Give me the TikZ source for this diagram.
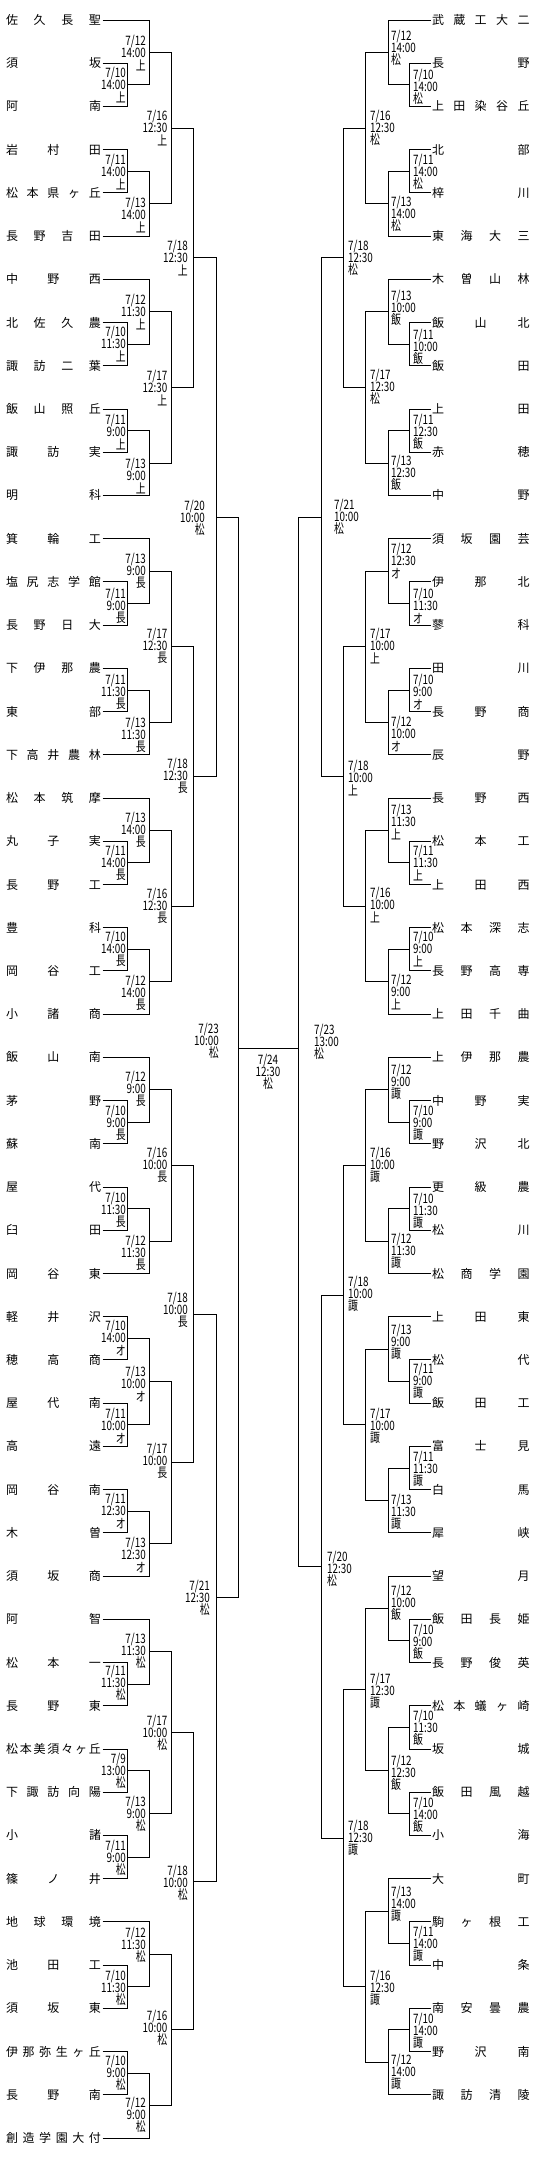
\documentclass[tikz,border=0pt]{standalone}
\usepackage{fontspec}
\newfontfamily\jp{Noto Sans CJK JP}
\newfontfamily\jplab[FakeStretch=0.76]{Noto Sans CJK JP}
\def\sprd#1{\sprdA#1\relax}
\def\sprdA#1#2{#1\ifx\relax#2\else\hfil\expandafter\sprdA\expandafter#2\fi}
\tikzset{
  ln/.style={line width=1pt, black},
  namebox/.style={anchor=west, inner sep=0pt, outer xsep=1.5pt, text height=10.5pt, text depth=1.5pt, font=\jp\fontsize{12}{12}\selectfont},
  labl/.style={anchor=east, inner sep=0pt, align=right, font=\jplab\fontsize{13}{12.3}\selectfont},
  labr/.style={anchor=west, inner sep=0pt, align=left, font=\jplab\fontsize{13}{12.3}\selectfont},
  labc/.style={inner sep=0pt, align=center, font=\jplab\fontsize{13}{12.3}\selectfont}
}
\newcommand\teamL[3]{\node[namebox] (#1) at (4.5,{ry(#2)}) {\hbox to 95pt{\sprd{#3}}};}
\newcommand\teamR[3]{\node[namebox] (#1) at (430.5,{ry(#2)}) {\hbox to 97.5pt{\sprd{#3}}};}
\newcommand\mt[5]{\coordinate (#1) at (#2,#3); \draw[ln] (#4) -| (#1); \draw[ln] (#5) -| (#1);}
\newcommand\lablL[4]{\node[labl] (#1) at (#2,#3) {#4};}
\newcommand\lablR[4]{\node[labr] (#1) at (#2,#3) {#4};}
\begin{document}
\begin{tikzpicture}[x=1pt,y=-1pt,declare function={ry(\k)=20+43.2245*(\k-1);}]
\fill[white] (0,0) rectangle (536,2166);
\useasboundingbox (0,0) rectangle (536,2166);
% left teams
\teamL{l1}{1}{佐久長聖}
\teamL{l2}{2}{須坂}
\teamL{l3}{3}{阿南}
\teamL{l4}{4}{岩村田}
\teamL{l5}{5}{松本県ヶ丘}
\teamL{l6}{6}{長野吉田}
\teamL{l7}{7}{中野西}
\teamL{l8}{8}{北佐久農}
\teamL{l9}{9}{諏訪二葉}
\teamL{l10}{10}{飯山照丘}
\teamL{l11}{11}{諏訪実}
\teamL{l12}{12}{明科}
\teamL{l13}{13}{箕輪工}
\teamL{l14}{14}{塩尻志学館}
\teamL{l15}{15}{長野日大}
\teamL{l16}{16}{下伊那農}
\teamL{l17}{17}{東部}
\teamL{l18}{18}{下高井農林}
\teamL{l19}{19}{松本筑摩}
\teamL{l20}{20}{丸子実}
\teamL{l21}{21}{長野工}
\teamL{l22}{22}{豊科}
\teamL{l23}{23}{岡谷工}
\teamL{l24}{24}{小諸商}
\teamL{l25}{25}{飯山南}
\teamL{l26}{26}{茅野}
\teamL{l27}{27}{蘇南}
\teamL{l28}{28}{屋代}
\teamL{l29}{29}{臼田}
\teamL{l30}{30}{岡谷東}
\teamL{l31}{31}{軽井沢}
\teamL{l32}{32}{穂高商}
\teamL{l33}{33}{屋代南}
\teamL{l34}{34}{高遠}
\teamL{l35}{35}{岡谷南}
\teamL{l36}{36}{木曽}
\teamL{l37}{37}{須坂商}
\teamL{l38}{38}{阿智}
\teamL{l39}{39}{松本一}
\teamL{l40}{40}{長野東}
\teamL{l41}{41}{松本美須々ヶ丘}
\teamL{l42}{42}{下諏訪向陽}
\teamL{l43}{43}{小諸}
\teamL{l44}{44}{篠ノ井}
\teamL{l45}{45}{地球環境}
\teamL{l46}{46}{池田工}
\teamL{l47}{47}{須坂東}
\teamL{l48}{48}{伊那弥生ヶ丘}
\teamL{l49}{49}{長野南}
\teamL{l50}{50}{創造学園大付}
% right teams
\teamR{r1}{1}{武蔵工大二}
\teamR{r2}{2}{長野}
\teamR{r3}{3}{上田染谷丘}
\teamR{r4}{4}{北部}
\teamR{r5}{5}{梓川}
\teamR{r6}{6}{東海大三}
\teamR{r7}{7}{木曽山林}
\teamR{r8}{8}{飯山北}
\teamR{r9}{9}{飯田}
\teamR{r10}{10}{上田}
\teamR{r11}{11}{赤穂}
\teamR{r12}{12}{中野}
\teamR{r13}{13}{須坂園芸}
\teamR{r14}{14}{伊那北}
\teamR{r15}{15}{蓼科}
\teamR{r16}{16}{田川}
\teamR{r17}{17}{長野商}
\teamR{r18}{18}{辰野}
\teamR{r19}{19}{長野西}
\teamR{r20}{20}{松本工}
\teamR{r21}{21}{上田西}
\teamR{r22}{22}{松本深志}
\teamR{r23}{23}{長野高専}
\teamR{r24}{24}{上田千曲}
\teamR{r25}{25}{上伊那農}
\teamR{r26}{26}{中野実}
\teamR{r27}{27}{野沢北}
\teamR{r28}{28}{更級農}
\teamR{r29}{29}{松川}
\teamR{r30}{30}{松商学園}
\teamR{r31}{31}{上田東}
\teamR{r32}{32}{松代}
\teamR{r33}{33}{飯田工}
\teamR{r34}{34}{富士見}
\teamR{r35}{35}{白馬}
\teamR{r36}{36}{犀峡}
\teamR{r37}{37}{望月}
\teamR{r38}{38}{飯田長姫}
\teamR{r39}{39}{長野俊英}
\teamR{r40}{40}{松本蟻ヶ崎}
\teamR{r41}{41}{坂城}
\teamR{r42}{42}{飯田風越}
\teamR{r43}{43}{小海}
\teamR{r44}{44}{大町}
\teamR{r45}{45}{駒ヶ根工}
\teamR{r46}{46}{中条}
\teamR{r47}{47}{南安曇農}
\teamR{r48}{48}{野沢南}
\teamR{r49}{49}{諏訪清陵}
% left bracket
\mt{lm1}{127}{84.8}{l2}{l3}
\mt{lm2}{149}{52.4}{l1}{lm1}
\mt{lm3}{127}{171.3}{l4}{l5}
\mt{lm4}{149}{203.7}{lm3}{l6}
\mt{lm5}{171}{128.05}{lm2}{lm4}
\mt{lm6}{127}{344.2}{l8}{l9}
\mt{lm7}{149}{311.75}{l7}{lm6}
\mt{lm8}{127}{430.6}{l10}{l11}
\mt{lm9}{149}{463.05}{lm8}{l12}
\mt{lm10}{171}{387.4}{lm7}{lm9}
\mt{lmq}{193}{257.7}{lm5}{lm10}
\mt{lm11}{127}{603.5}{l14}{l15}
\mt{lm12}{149}{571.1}{l13}{lm11}
\mt{lm13}{127}{690.0}{l16}{l17}
\mt{lm14}{149}{722.4}{lm13}{l18}
\mt{lm15}{171}{646.75}{lm12}{lm14}
\mt{lm16}{127}{862.9}{l20}{l21}
\mt{lm17}{149}{830.45}{l19}{lm16}
\mt{lm18}{127}{949.3}{l22}{l23}
\mt{lm19}{149}{981.75}{lm18}{l24}
\mt{lm20}{171}{906.1}{lm17}{lm19}
\mt{lm21}{193}{776.4}{lm15}{lm20}
\mt{lm22}{216}{517.05}{lmq}{lm21}
\mt{lm23}{127}{1122.2}{l26}{l27}
\mt{lm24}{149}{1089.8}{l25}{lm23}
\mt{lm25}{127}{1208.7}{l28}{l29}
\mt{lm26}{149}{1241.1}{lm25}{l30}
\mt{lm27}{171}{1165.45}{lm24}{lm26}
\mt{lm28}{127}{1338.35}{l31}{l32}
\mt{lm29}{127}{1424.8}{l33}{l34}
\mt{lm30}{149}{1381.6}{lm28}{lm29}
\mt{lm31}{127}{1511.25}{l35}{l36}
\mt{lm32}{149}{1543.7}{lm31}{l37}
\mt{lm33}{171}{1462.65}{lm30}{lm32}
\mt{lm34}{193}{1314.05}{lm27}{lm33}
\mt{lm35}{127}{1684.15}{l39}{l40}
\mt{lm36}{149}{1651.7}{l38}{lm35}
\mt{lm37}{127}{1770.6}{l41}{l42}
\mt{lm38}{127}{1857.05}{l43}{l44}
\mt{lm39}{149}{1813.8}{lm37}{lm38}
\mt{lm40}{171}{1732.75}{lm36}{lm39}
\mt{lm41}{127}{1986.7}{l46}{l47}
\mt{lm42}{149}{1954.3}{l45}{lm41}
\mt{lm43}{127}{2073.2}{l48}{l49}
\mt{lm44}{149}{2105.6}{lm43}{l50}
\mt{lm45}{171}{2029.95}{lm42}{lm44}
\mt{lm46}{193}{1881.35}{lm40}{lm45}
\mt{lm47}{216}{1597.7}{lm34}{lm46}
\mt{lm48}{238}{1048}{lm22}{lm47}
% right bracket
\mt{rm1}{409}{84.8}{r2}{r3}
\mt{rm2}{388}{52.4}{r1}{rm1}
\mt{rm3}{409}{171.3}{r4}{r5}
\mt{rm4}{388}{203.7}{rm3}{r6}
\mt{rm5}{365}{128.05}{rm2}{rm4}
\mt{rm6}{409}{344.2}{r8}{r9}
\mt{rm7}{388}{311.75}{r7}{rm6}
\mt{rm8}{409}{430.6}{r10}{r11}
\mt{rm9}{388}{463.05}{rm8}{r12}
\mt{rm10}{365}{387.4}{rm7}{rm9}
\mt{rm11}{343}{257.7}{rm5}{rm10}
\mt{rm12}{409}{603.5}{r14}{r15}
\mt{rm13}{388}{571.1}{r13}{rm12}
\mt{rm14}{409}{690.0}{r16}{r17}
\mt{rm15}{388}{722.4}{rm14}{r18}
\mt{rm16}{365}{646.75}{rm13}{rm15}
\mt{rm17}{409}{862.9}{r20}{r21}
\mt{rm18}{388}{830.45}{r19}{rm17}
\mt{rm19}{409}{949.3}{r22}{r23}
\mt{rm20}{388}{981.75}{rm19}{r24}
\mt{rm21}{365}{906.1}{rm18}{rm20}
\mt{rm22}{343}{776.4}{rm16}{rm21}
\mt{rm23}{321}{517.05}{rm11}{rm22}
\mt{rm24}{409}{1122.2}{r26}{r27}
\mt{rm25}{388}{1089.8}{r25}{rm24}
\mt{rm26}{409}{1208.7}{r28}{r29}
\mt{rm27}{388}{1241.1}{rm26}{r30}
\mt{rm28}{365}{1165.45}{rm25}{rm27}
\mt{rm29}{409}{1381.6}{r32}{r33}
\mt{rm30}{388}{1349.15}{r31}{rm29}
\mt{rm31}{409}{1468.0}{r34}{r35}
\mt{rm32}{388}{1500.45}{rm31}{r36}
\mt{rm33}{365}{1424.8}{rm30}{rm32}
\mt{rm34}{343}{1295.1}{rm28}{rm33}
\mt{rm35}{409}{1640.9}{r38}{r39}
\mt{rm36}{388}{1608.5}{r37}{rm35}
\mt{rm37}{409}{1727.4}{r40}{r41}
\mt{rm38}{409}{1813.8}{r42}{r43}
\mt{rm39}{388}{1770.6}{rm37}{rm38}
\mt{rm40}{365}{1689.55}{rm36}{rm39}
\mt{rm41}{409}{1943.5}{r45}{r46}
\mt{rm42}{388}{1911.1}{r44}{rm41}
\mt{rm43}{409}{2029.95}{r47}{r48}
\mt{rm44}{388}{2062.4}{rm43}{r49}
\mt{rm45}{365}{1986.75}{rm42}{rm44}
\mt{rm46}{343}{1838.15}{rm40}{rm45}
\mt{rm47}{321}{1566.6}{rm34}{rm46}
\mt{rm48}{298}{1048}{rm23}{rm47}
\draw[ln] (lm48) -- (rm48);
% left labels
\lablL{lm1t}{126}{85}{7/10\\14:00\\上}
\lablL{lm2t}{146}{53}{7/12\\14:00\\上}
\lablL{lm3t}{126}{172}{7/11\\14:00\\上}
\lablL{lm4t}{146}{215}{7/13\\14:00\\上}
\lablL{lm5t}{167.5}{128}{7/16\\12:30\\上}
\lablL{lmqt}{188}{258}{7/18\\12:30\\上}
\lablL{lm6t}{126}{344}{7/10\\11:30\\上}
\lablL{lm7t}{146}{312}{7/12\\11:30\\上}
\lablL{lm8t}{126}{432}{7/11\\9:00\\上}
\lablL{lm9t}{146}{476}{7/13\\9:00\\上}
\lablL{lm10t}{167.5}{388}{7/17\\12:30\\上}
\lablL{lm11t}{126}{606}{7/11\\9:00\\長}
\lablL{lm12t}{146}{571}{7/13\\9:00\\長}
\lablL{lm13t}{126}{692}{7/11\\11:30\\長}
\lablL{lm14t}{146}{735}{7/13\\11:30\\長}
\lablL{lm15t}{167.5}{646}{7/17\\12:30\\長}
\lablL{lm16t}{126}{863}{7/11\\14:00\\長}
\lablL{lm17t}{146}{830}{7/13\\14:00\\長}
\lablL{lm18t}{126}{949}{7/10\\14:00\\長}
\lablL{lm19t}{146}{993}{7/12\\14:00\\長}
\lablL{lm20t}{167.5}{906}{7/16\\12:30\\長}
\lablL{lm21t}{188}{776}{7/18\\12:30\\長}
\lablL{lm22t}{205}{518}{7/20\\10:00\\松}
\lablL{lm23t}{126}{1123}{7/10\\9:00\\長}
\lablL{lm24t}{146}{1089}{7/12\\9:00\\長}
\lablL{lm25t}{126}{1210}{7/10\\11:30\\長}
\lablL{lm26t}{146}{1253}{7/12\\11:30\\長}
\lablL{lm27t}{167.5}{1165}{7/16\\10:00\\長}
\lablL{lm28t}{126}{1338}{7/10\\14:00\\オ}
\lablL{lm29t}{126}{1426}{7/11\\10:00\\オ}
\lablL{lm30t}{146}{1384}{7/13\\10:00\\オ}
\lablL{lm31t}{126}{1511}{7/11\\12:30\\オ}
\lablL{lm32t}{146}{1555}{7/13\\12:30\\オ}
\lablL{lm33t}{167.5}{1461}{7/17\\10:00\\長}
\lablL{lm34t}{188}{1310}{7/18\\10:00\\長}
\lablL{lm35t}{126}{1683}{7/11\\11:30\\松}
\lablL{lm36t}{146}{1651}{7/13\\11:30\\松}
\lablL{lm37t}{126}{1771}{7/9\\13:00\\松}
\lablL{lm38t}{126}{1858}{7/11\\9:00\\松}
\lablL{lm39t}{146}{1814}{7/13\\9:00\\松}
\lablL{lm40t}{167.5}{1733}{7/17\\10:00\\松}
\lablL{lm41t}{126}{1988}{7/10\\11:30\\松}
\lablL{lm42t}{146}{1945}{7/12\\11:30\\松}
\lablL{lm43t}{126}{2073}{7/10\\9:00\\松}
\lablL{lm44t}{146}{2115}{7/12\\9:00\\松}
\lablL{lm45t}{167.5}{2028}{7/16\\10:00\\松}
\lablL{lm46t}{188}{1883}{7/18\\10:00\\松}
\lablL{lm47t}{210}{1598}{7/21\\12:30\\松}
\lablL{lm48t}{219}{1041}{7/23\\10:00\\松}
\node[labc] (fint) at (268,1072) {7/24\\12:30\\松};
% right labels
\lablR{rm1t}{413}{87}{7/10\\14:00\\松}
\lablR{rm2t}{391}{48}{7/12\\14:00\\松}
\lablR{rm3t}{413}{172}{7/11\\14:00\\松}
\lablR{rm4t}{391}{214}{7/13\\14:00\\松}
\lablR{rm5t}{370}{128}{7/16\\12:30\\松}
\lablR{rm6t}{413}{347}{7/11\\10:00\\飯}
\lablR{rm7t}{391}{308}{7/13\\10:00\\飯}
\lablR{rm8t}{413}{432}{7/11\\12:30\\飯}
\lablR{rm9t}{391}{473}{7/13\\12:30\\飯}
\lablR{rm10t}{370}{387}{7/17\\12:30\\松}
\lablR{rm11t}{348}{258}{7/18\\12:30\\松}
\lablR{rm12t}{413}{606}{7/10\\11:30\\オ}
\lablR{rm13t}{391}{561}{7/12\\12:30\\オ}
\lablR{rm14t}{413}{692}{7/10\\9:00\\オ}
\lablR{rm15t}{391}{734}{7/12\\10:00\\オ}
\lablR{rm16t}{370}{646}{7/17\\10:00\\上}
\lablR{rm17t}{413}{863}{7/11\\11:30\\上}
\lablR{rm18t}{391}{822}{7/13\\11:30\\上}
\lablR{rm19t}{413}{949}{7/10\\9:00\\上}
\lablR{rm20t}{391}{992}{7/12\\9:00\\上}
\lablR{rm21t}{370}{905}{7/16\\10:00\\上}
\lablR{rm22t}{348}{778}{7/18\\10:00\\上}
\lablR{rm23t}{334}{517}{7/21\\10:00\\松}
\lablR{rm24t}{413}{1123}{7/10\\9:00\\諏}
\lablR{rm25t}{391}{1082}{7/12\\9:00\\諏}
\lablR{rm26t}{413}{1211}{7/10\\11:30\\諏}
\lablR{rm27t}{391}{1251}{7/12\\11:30\\諏}
\lablR{rm28t}{370}{1165}{7/16\\10:00\\諏}
\lablR{rm29t}{413}{1381}{7/11\\9:00\\諏}
\lablR{rm30t}{391}{1342}{7/13\\9:00\\諏}
\lablR{rm31t}{413}{1469}{7/11\\11:30\\諏}
\lablR{rm32t}{391}{1512}{7/13\\11:30\\諏}
\lablR{rm33t}{370}{1426}{7/17\\10:00\\諏}
\lablR{rm34t}{348}{1294}{7/18\\10:00\\諏}
\lablR{rm35t}{413}{1642}{7/10\\9:00\\飯}
\lablR{rm36t}{391}{1603}{7/12\\10:00\\飯}
\lablR{rm37t}{413}{1728}{7/10\\11:30\\飯}
\lablR{rm38t}{413}{1815}{7/10\\14:00\\飯}
\lablR{rm39t}{391}{1773}{7/12\\12:30\\飯}
\lablR{rm40t}{370}{1691}{7/17\\12:30\\諏}
\lablR{rm41t}{413}{1944}{7/11\\14:00\\諏}
\lablR{rm42t}{391}{1904}{7/13\\14:00\\諏}
\lablR{rm43t}{413}{2031}{7/10\\14:00\\諏}
\lablR{rm44t}{391}{2072}{7/12\\14:00\\諏}
\lablR{rm45t}{370}{1988}{7/16\\12:30\\諏}
\lablR{rm46t}{348}{1838}{7/18\\12:30\\諏}
\lablR{rm47t}{327}{1569}{7/20\\12:30\\松}
\lablR{rm48t}{314}{1042}{7/23\\13:00\\松}
\end{tikzpicture}
\end{document}
